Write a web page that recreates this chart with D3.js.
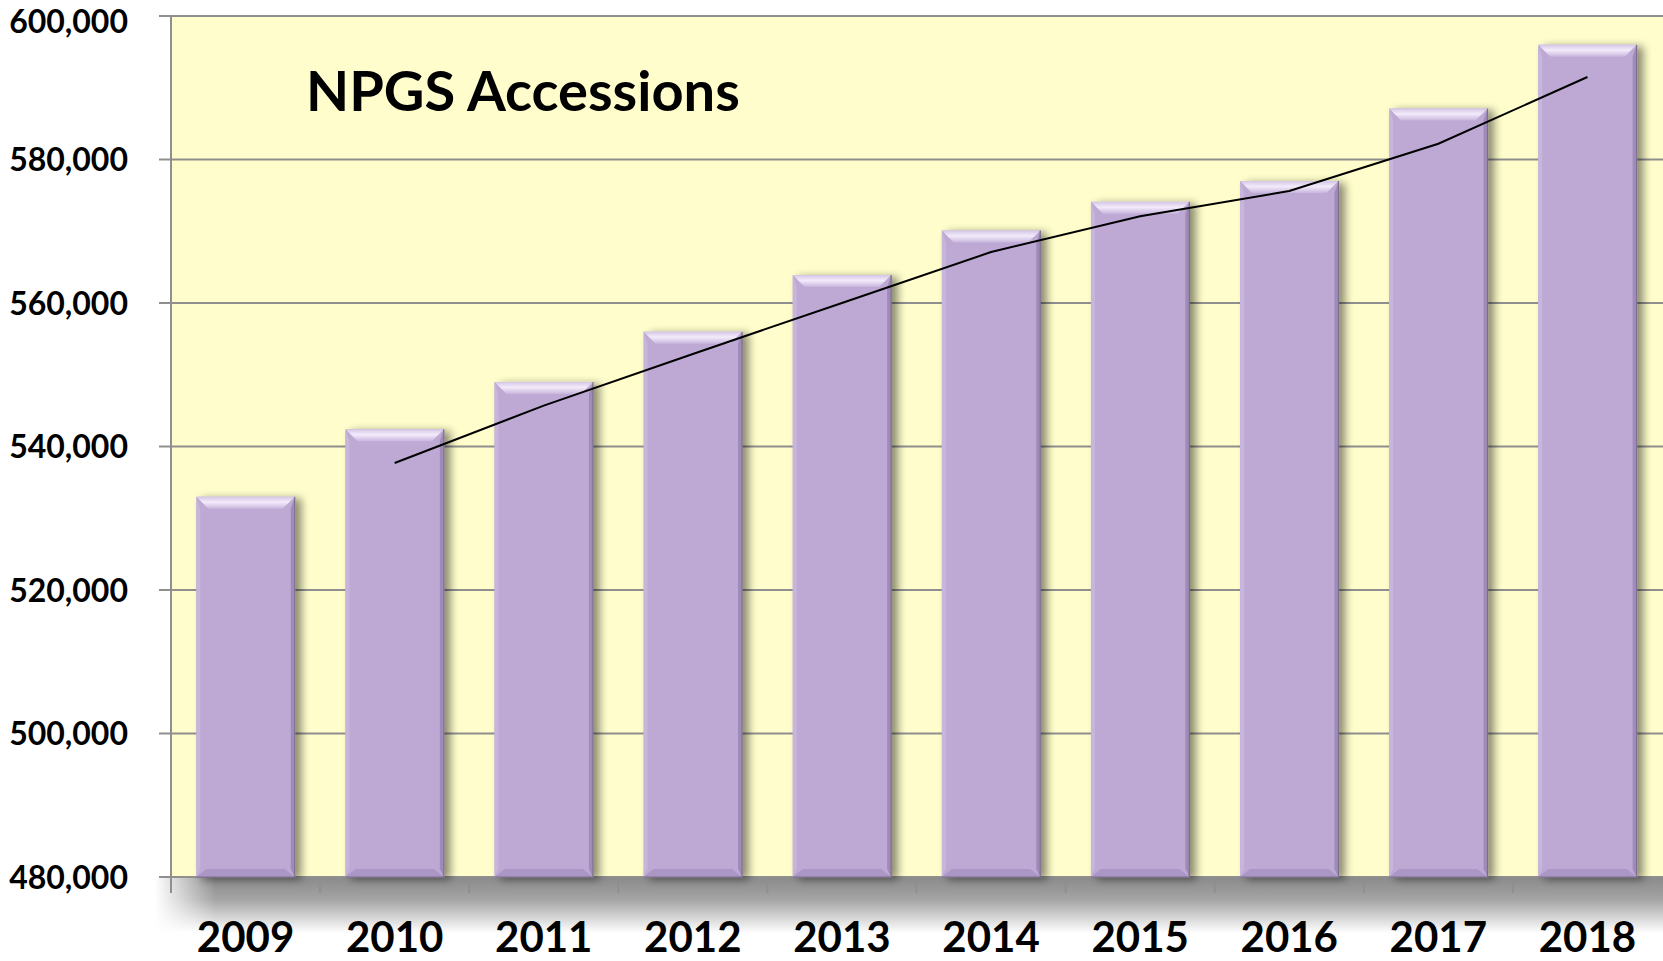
<!DOCTYPE html>
<html><head><meta charset="utf-8">
<script src="https://cdn.jsdelivr.net/npm/d3@7"></script>
<style>html,body{margin:0;padding:0;background:#fff;overflow:hidden}</style>
</head><body>
<svg id="c" width="1663" height="961"></svg>
<script>
const years = ['2009','2010','2011','2012','2013','2014','2015','2016','2017','2018'];
const accessions = [533000, 542400, 549000, 556000, 563900, 570100, 574100, 577000, 587100, 596000];
const trend = [null, 537700, 545700, 552900, 560000, 567100, 572100, 575600, 582200, 591500];
const yTicks = [480000, 500000, 520000, 540000, 560000, 580000, 600000];
const title = 'NPGS Accessions';

const svg = d3.select('#c');
const L = 171, R = 1663, T = 16, B = 877;
const x = d3.scaleBand().domain(years).range([L, R - 1]).paddingInner(0.34).paddingOuter(0.17);
const y = d3.scaleLinear().domain([480000, 600000]).range([B, T]);
const font = 'Lato, "Open Sans", sans-serif';

const defs = svg.append('defs');
const sh = defs.append('filter').attr('id','sh').attr('x','-20%').attr('y','-10%').attr('width','150%').attr('height','130%');
sh.append('feGaussianBlur').attr('in','SourceAlpha').attr('stdDeviation',4).attr('result','b');
sh.append('feOffset').attr('in','b').attr('dx',6).attr('dy',2).attr('result','o');
sh.append('feComponentTransfer').attr('in','o').attr('result','oa').append('feFuncA').attr('type','linear').attr('slope',0.45);
const mg = sh.append('feMerge'); mg.append('feMergeNode').attr('in','oa'); mg.append('feMergeNode').attr('in','SourceGraphic');

const gTop = defs.append('linearGradient').attr('id','gtop').attr('x1',0).attr('y1',0).attr('x2',0).attr('y2',1);
gTop.append('stop').attr('offset','0%').attr('stop-color','#d4c6e6');
gTop.append('stop').attr('offset','45%').attr('stop-color','#f3ebfb');
gTop.append('stop').attr('offset','100%').attr('stop-color','#c8b6dd');

const gSh = defs.append('linearGradient').attr('id','gsh').attr('x1',0).attr('y1',0).attr('x2',0).attr('y2',1);
gSh.append('stop').attr('offset','0%').attr('stop-color','#8a8a8a');
gSh.append('stop').attr('offset','40%').attr('stop-color','#a4a4a4');
gSh.append('stop').attr('offset','100%').attr('stop-color','#ffffff');
const gShH = defs.append('linearGradient').attr('id','gshh').attr('x1',0).attr('y1',0).attr('x2',1).attr('y2',0);
gShH.append('stop').attr('offset','0%').attr('stop-color','#fff').attr('stop-opacity',0);
gShH.append('stop').attr('offset','4%').attr('stop-color','#fff').attr('stop-opacity',1);
gShH.append('stop').attr('offset','100%').attr('stop-color','#fff').attr('stop-opacity',1);
defs.append('mask').attr('id','mk').append('rect').attr('x',155).attr('y',B).attr('width',R-155).attr('height',60).attr('fill','url(#gshh)');

svg.append('rect').attr('x',155).attr('y',B).attr('width',R-155).attr('height',56)
  .attr('fill','url(#gsh)').attr('mask','url(#mk)');

svg.append('rect').attr('x',L).attr('y',T).attr('width',R-L).attr('height',B-T).attr('fill','#fefdcb');

svg.append('g').selectAll('line').data(yTicks).join('line')
  .attr('x1',159).attr('x2',R).attr('y1',d=>y(d)).attr('y2',d=>y(d))
  .attr('stroke','#8f8f8f').attr('stroke-width',2);

const yl = svg.append('g').selectAll('text').data(yTicks).join('text')
  .attr('x',128).attr('y',d=>y(d)).attr('dy','0.36em').attr('text-anchor','end')
  .attr('font-family',font).attr('font-weight',700).attr('font-size',32).attr('fill','#000')
  .text(d=>d3.format(',')(d));
yl.each(function(){ const b=this.getBBox(); if(b.y<0){ d3.select(this).attr('y', +d3.select(this).attr('y') - b.y + 0.5); } });

svg.append('line').attr('x1',L).attr('x2',L).attr('y1',T).attr('y2',B+16).attr('stroke','#8f8f8f').attr('stroke-width',2);
const step = x.step();
svg.append('g').selectAll('line').data(years.slice(1)).join('line')
  .attr('x1',d=>x(d)-x.paddingInner()*step/2).attr('x2',d=>x(d)-x.paddingInner()*step/2)
  .attr('y1',B).attr('y2',B+16).attr('stroke','#8f8f8f').attr('stroke-width',2);

const bw = x.bandwidth();
const bars = svg.append('g').selectAll('g').data(years).join('g').attr('filter','url(#sh)');
bars.append('rect').attr('x',d=>x(d)).attr('y',(d,i)=>y(accessions[i])).attr('width',bw)
  .attr('height',(d,i)=>B-y(accessions[i])).attr('fill','#bda9d4');
const tb = 12, sb = 4, bb = 8;
bars.append('polygon').attr('points',(d,i)=>{const x0=x(d),y0=y(accessions[i]);
  return [[x0,y0],[x0+sb,y0+tb],[x0+sb,B-bb],[x0,B]].join(' ');}).attr('fill','#c7b5dc');
bars.append('polygon').attr('points',(d,i)=>{const x1=x(d)+bw,y0=y(accessions[i]);
  return [[x1,y0],[x1-sb,y0+tb],[x1-sb,B-bb],[x1,B]].join(' ');}).attr('fill','#9f8bb8');
bars.append('polygon').attr('points',(d,i)=>{const x0=x(d),x1=x0+bw;
  return [[x0,B],[x0+sb+6,B-bb],[x1-sb-6,B-bb],[x1,B]].join(' ');}).attr('fill','#ab97c5');
bars.append('polygon').attr('points',(d,i)=>{const x0=x(d),x1=x0+bw,y0=y(accessions[i]);
  return [[x0,y0],[x1,y0],[x1-tb,y0+tb],[x0+tb,y0+tb]].join(' ');}).attr('fill','url(#gtop)');
bars.append('path').attr('d',(d,i)=>{const x0=x(d),x1=x0+bw,y0=y(accessions[i]);
  return `M${x1},${y0}L${x1},${B}L${x0},${B}`;}).attr('fill','none').attr('stroke','#7d6d90').attr('stroke-width',1.2);

const line = d3.line().defined(d=>d[1]!=null).x(d=>x(d[0])+bw/2).y(d=>y(d[1]));
svg.append('path').datum(years.map((d,i)=>[d,trend[i]])).attr('d',line)
  .attr('fill','none').attr('stroke','#000').attr('stroke-width',2);

svg.append('g').selectAll('text').data(years).join('text')
  .attr('x',d=>x(d)+bw/2).attr('y',952).attr('text-anchor','middle')
  .attr('font-family',font).attr('font-weight',700).attr('font-size',42).attr('fill','#000')
  .text(d=>d);

svg.append('text').attr('x',306).attr('y',111).attr('font-family',font).attr('font-weight',700)
  .attr('font-size',56).attr('fill','#000').text(title);
</script>
</body></html>
